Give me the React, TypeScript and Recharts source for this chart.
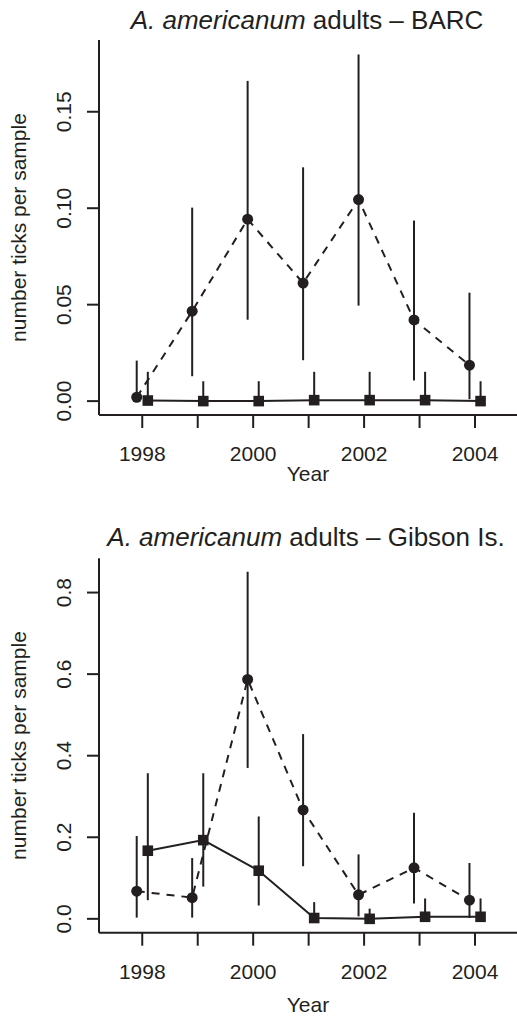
import React from 'react';
import { ComposedChart, Line, XAxis, YAxis, ErrorBar, Customized } from 'recharts';

const years = [1998, 1999, 2000, 2001, 2002, 2003, 2004];
const xTicks = [1998, 1999, 2000, 2001, 2002, 2003, 2004];
const barcYTicks = [0, 0.05, 0.1, 0.15];
const gibsonYTicks = [0, 0.2, 0.4, 0.6, 0.8];

// BARC – circles (dashed) and squares (solid)
const barcCircleMean = [0.002, 0.0466, 0.0943, 0.0612, 0.1045, 0.0421, 0.0186];
const barcCircleLow = [0, 0.0129, 0.0422, 0.0212, 0.0495, 0.0107, 0.001];
const barcCircleHigh = [0.021, 0.1003, 0.166, 0.1212, 0.1797, 0.0936, 0.0562];
const barcSquareMean = [0.0003, 0, 0, 0.0005, 0.0005, 0.0005, 0];
const barcSquareLow = [0, 0, 0, 0, 0, 0, 0];
const barcSquareHigh = [0.0152, 0.0103, 0.0103, 0.0152, 0.0152, 0.0152, 0.0103];

// Gibson Is. – circles (dashed) and squares (solid)
const gibCircleMean = [0.0678, 0.052, 0.587, 0.267, 0.0588, 0.125, 0.0457];
const gibCircleLow = [0.003, 0.003, 0.37, 0.129, 0.006, 0.0376, 0.002];
const gibCircleHigh = [0.203, 0.149, 0.851, 0.453, 0.158, 0.26, 0.137];
const gibSquareMean = [0.167, 0.193, 0.118, 0.002, 0, 0.005, 0.005];
const gibSquareLow = [0.0457, 0.079, 0.0327, 0, 0, 0, 0];
const gibSquareHigh = [0.357, 0.357, 0.251, 0.041, 0.025, 0.05, 0.05];

const INK = '#231f20';
const FONT = '"Liberation Sans", Arial, Helvetica, sans-serif';
const X_OFFSET = 0.1;

function buildSeries(mean: number[], low: number[], high: number[], offset: number) {
  return years.map((yr, i) => ({
    x: yr + offset,
    y: mean[i],
    err: [mean[i] - low[i], high[i] - mean[i]],
  }));
}

const CircleDot = (props: any) => {
  const { cx, cy, index } = props;
  if (cx == null || cy == null) return <g key={`c${index}`} />;
  return <circle key={`c${index}`} cx={cx} cy={cy} r={5.5} fill={INK} stroke="none" />;
};

const SquareDot = (props: any) => {
  const { cx, cy, index } = props;
  if (cx == null || cy == null) return <g key={`s${index}`} />;
  return <rect key={`s${index}`} x={cx - 5.3} y={cy - 5.3} width={10.6} height={10.6} fill={INK} stroke="none" />;
};

const XTick = (props: any) => {
  const { x, y, payload } = props;
  if (payload.value % 2 !== 0) return <g />;
  return (
    <text x={x} y={y + 33} textAnchor="middle" fontSize={21} fontFamily={FONT} fill={INK}>
      {payload.value}
    </text>
  );
};

const makeYTick = (digits: number) => (props: any) => {
  const { x, y, payload } = props;
  return (
    <text
      transform={`translate(${x - 16.5},${y}) rotate(-90)`}
      textAnchor="middle"
      fontSize={21}
      fontFamily={FONT}
      fill={INK}
    >
      {Number(payload.value).toFixed(digits)}
    </text>
  );
};

type PanelProps = {
  height: number;
  top: number;
  plotBottom: number;
  yDomain: [number, number];
  yTicks: number[];
  digits: number;
  site: string;
  titleY: number;
  titleX: number;
  yearY: number;
  circles: { x: number; y: number; err: number[] }[];
  squares: { x: number; y: number; err: number[] }[];
};

const WIDTH = 517;
const LEFT = 99;
const Y_AXIS_W = 60;
const X_AXIS_H = 60;

function Panel(p: PanelProps) {
  const plotCenterY = (p.top + p.plotBottom) / 2;
  const plotCenterX = (LEFT + WIDTH) / 2;
  const Texts = () => (
    <g fontFamily={FONT} fill={INK}>
      <text x={p.titleX} y={p.titleY} textAnchor="middle" fontSize={26}>
        <tspan fontStyle="italic">A. americanum</tspan>
        <tspan>{` adults \u2013 ${p.site}`}</tspan>
      </text>
      <text x={plotCenterX} y={p.yearY} textAnchor="middle" fontSize={21}>
        Year
      </text>
      <text
        transform={`translate(26,${plotCenterY}) rotate(-90)`}
        textAnchor="middle"
        fontSize={21}
      >
        number ticks per sample
      </text>
    </g>
  );
  return (
    <ComposedChart
      width={WIDTH}
      height={p.height}
      margin={{ top: p.top, right: 0, left: LEFT - Y_AXIS_W, bottom: p.height - p.plotBottom - X_AXIS_H }}
    >
      <XAxis
        type="number"
        dataKey="x"
        domain={[1997.22, 2004.757]}
        allowDataOverflow
        ticks={xTicks}
        interval={0}
        tickSize={13}
        tickMargin={0}
        height={X_AXIS_H}
        axisLine={{ stroke: INK, strokeWidth: 2 }}
        tickLine={{ stroke: INK, strokeWidth: 2 }}
        tick={<XTick />}
      />
      <YAxis
        type="number"
        domain={p.yDomain}
        allowDataOverflow
        ticks={p.yTicks}
        interval={0}
        tickSize={12}
        tickMargin={0}
        width={Y_AXIS_W}
        axisLine={{ stroke: INK, strokeWidth: 2 }}
        tickLine={{ stroke: INK, strokeWidth: 2 }}
        tick={makeYTick(p.digits)}
      />
      <Line
        data={p.circles}
        dataKey="y"
        type="linear"
        stroke={INK}
        strokeWidth={2}
        strokeDasharray="8 7"
        dot={CircleDot}
        activeDot={false}
        isAnimationActive={false}
      >
        <ErrorBar dataKey="err" direction="y" width={0} stroke={INK} strokeWidth={2} isAnimationActive={false} />
      </Line>
      <Line
        data={p.squares}
        dataKey="y"
        type="linear"
        stroke={INK}
        strokeWidth={2}
        dot={SquareDot}
        activeDot={false}
        isAnimationActive={false}
      >
        <ErrorBar dataKey="err" direction="y" width={0} stroke={INK} strokeWidth={2} isAnimationActive={false} />
      </Line>
      <Customized component={Texts} />
    </ComposedChart>
  );
}

export default function App() {
  return (
    <div
      style={{
        position: 'absolute',
        left: 0,
        top: 0,
        width: 517,
        height: 1019,
        overflow: 'hidden',
        background: '#fff',
      }}
    >
      <Panel
        height={500}
        top={40}
        plotBottom={415}
        yDomain={[-0.0072, 0.1872]}
        yTicks={barcYTicks}
        digits={2}
        site="BARC"
        titleX={307}
        titleY={29}
        yearY={481}
        circles={buildSeries(barcCircleMean, barcCircleLow, barcCircleHigh, -X_OFFSET)}
        squares={buildSeries(barcSquareMean, barcSquareLow, barcSquareHigh, X_OFFSET)}
      />
      <Panel
        height={519}
        top={58.3}
        plotBottom={432.7}
        yDomain={[-0.034, 0.884]}
        yTicks={gibsonYTicks}
        digits={1}
        site="Gibson Is."
        titleX={306}
        titleY={45.5}
        yearY={512}
        circles={buildSeries(gibCircleMean, gibCircleLow, gibCircleHigh, -X_OFFSET)}
        squares={buildSeries(gibSquareMean, gibSquareLow, gibSquareHigh, X_OFFSET)}
      />
    </div>
  );
}
